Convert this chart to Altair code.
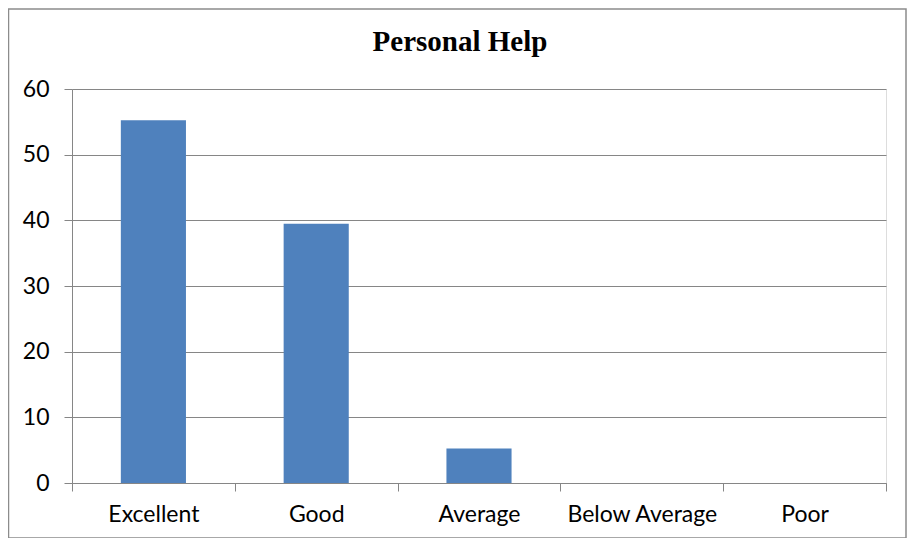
import altair as alt
import pandas as pd

categories = ["Excellent", "Good", "Average", "Below Average", "Poor"]
values = [55.26, 39.47, 5.26, 0, 0]
y_ticks = [0, 10, 20, 30, 40, 50, 60]
title_text = "Personal Help"

df = pd.DataFrame({"category": categories, "value": values})

PLOT_W = 814
PLOT_H = 394
GRAY = "#868686"
LABEL_FONT = "Lato"
LABEL_SIZE = 23

bars = alt.Chart(df).mark_bar(color="#4F81BD", width=alt.RelativeBandSize(0.4)).encode(
    x=alt.X(
        "category:N",
        sort=categories,
        scale=alt.Scale(paddingInner=0, paddingOuter=0),
        axis=alt.Axis(
            title=None, labelAngle=0, tickBand="extent", grid=False,
            domainColor=GRAY, tickColor=GRAY, tickSize=8, labelPadding=12,
            labelFontSize=LABEL_SIZE, labelFont=LABEL_FONT, labelColor="black",
        ),
    ),
    y=alt.Y(
        "value:Q",
        scale=alt.Scale(domain=[0, 60], nice=False),
        axis=alt.Axis(
            title=None, values=y_ticks, grid=True, gridColor=GRAY,
            domainColor=GRAY, tickColor=GRAY, tickSize=8, labelPadding=15,
            labelFontSize=LABEL_SIZE, labelFont=LABEL_FONT, labelColor="black",
        ),
    ),
)

frame = alt.Chart(pd.DataFrame({"f": [0]})).mark_rect(
    fillOpacity=0, stroke="#8c8c8c", strokeWidth=1.5
).encode(
    x=alt.value(-63.5), x2=alt.value(834), y=alt.value(-80), y2=alt.value(449)
)

chart = alt.layer(frame, bars).properties(
    width=PLOT_W,
    height=PLOT_H,
    autosize=alt.AutoSizeParams(type="none"),
    padding={"left": 64, "top": 81, "right": 21, "bottom": 55},
    title=alt.TitleParams(
        title_text, font="Liberation Serif", fontSize=29, fontWeight="bold",
        anchor="middle", dx=-19, offset=-72, baseline="alphabetic", color="black",
    ),
).configure_view(stroke=None).configure(background="white")

chart.save("out.html", embed_options={"renderer": "svg", "actions": False})
